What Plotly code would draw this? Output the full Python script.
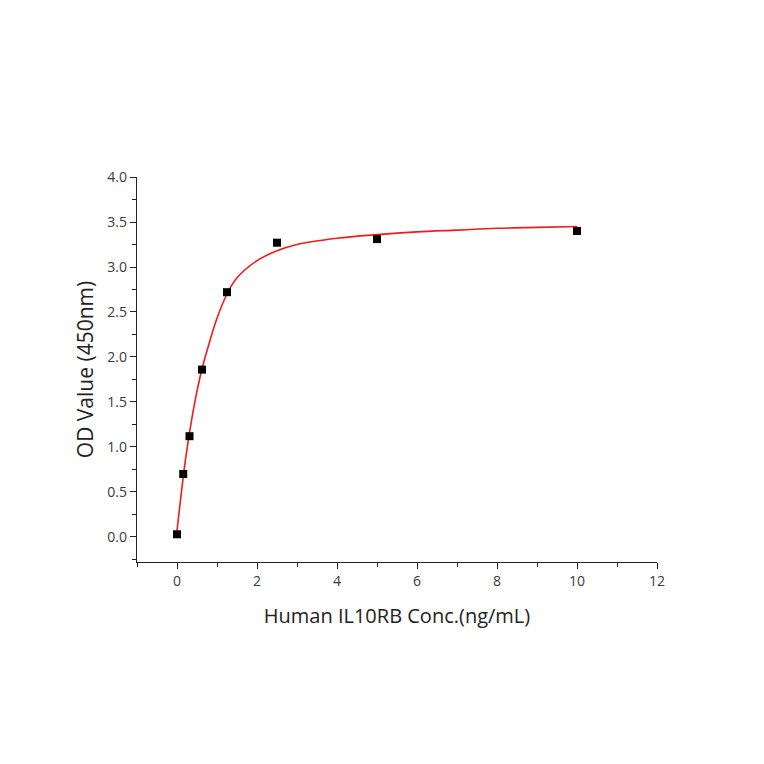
import plotly.graph_objects as go

# measured points
conc = [0, 0.156, 0.3125, 0.625, 1.25, 2.5, 5, 10]
od = [0.03, 0.70, 1.12, 1.86, 2.72, 3.27, 3.31, 3.40]

# fitted curve
fit_x = [0, 0.1, 0.2, 0.3, 0.4, 0.5, 0.625, 0.75, 1.0, 1.25, 1.5, 2.0, 2.5, 3, 4, 5, 6, 7, 8, 9, 10]
fit_y = [0.07, 0.46, 0.82, 1.12, 1.39, 1.62, 1.87, 2.07, 2.43, 2.70, 2.88, 3.07, 3.18, 3.25, 3.32, 3.36, 3.39, 3.41, 3.43, 3.44, 3.45]

fig = go.Figure()
fig.add_trace(go.Scatter(x=fit_x, y=fit_y, mode="lines", line=dict(color="#ee1c1c", width=1.6, shape="spline"),
                         hoverinfo="skip", showlegend=False))
fig.add_trace(go.Scatter(x=conc, y=od, mode="markers",
                         marker=dict(symbol="square", size=8, color="black"), showlegend=False))

axis_common = dict(showline=True, linecolor="#222", linewidth=1.3, ticks="outside", ticklen=6, tickwidth=1.3,
                   tickcolor="#222", showgrid=False, zeroline=False,
                   tickfont=dict(family="Open Sans", size=14, color="#3a3a3a"),
                   minor=dict(ticks="outside", ticklen=4, tickwidth=1.1, tickcolor="#222"))

fig.update_xaxes(range=[-1, 12], tickvals=[0, 2, 4, 6, 8, 10, 12], minor_dtick=1, minor_tick0=-1,
                 title=dict(text="Human IL10RB Conc.(ng/mL)", font=dict(family="Open Sans", size=20, color="#222"),
                            standoff=20), **axis_common)
fig.update_yaxes(range=[-0.278, 4.0], tickvals=[0, 0.5, 1.0, 1.5, 2.0, 2.5, 3.0, 3.5, 4.0], tickformat=".1f",
                 minor_dtick=0.25, minor_tick0=0,
                 title=dict(text="OD Value (450nm)", font=dict(family="Open Sans", size=21, color="#222"),
                            standoff=8), **axis_common)

fig.update_layout(width=764, height=764, paper_bgcolor="white", plot_bgcolor="white",
                  margin=dict(l=129, r=115, t=169, b=210))

fig.write_html("out.html")
